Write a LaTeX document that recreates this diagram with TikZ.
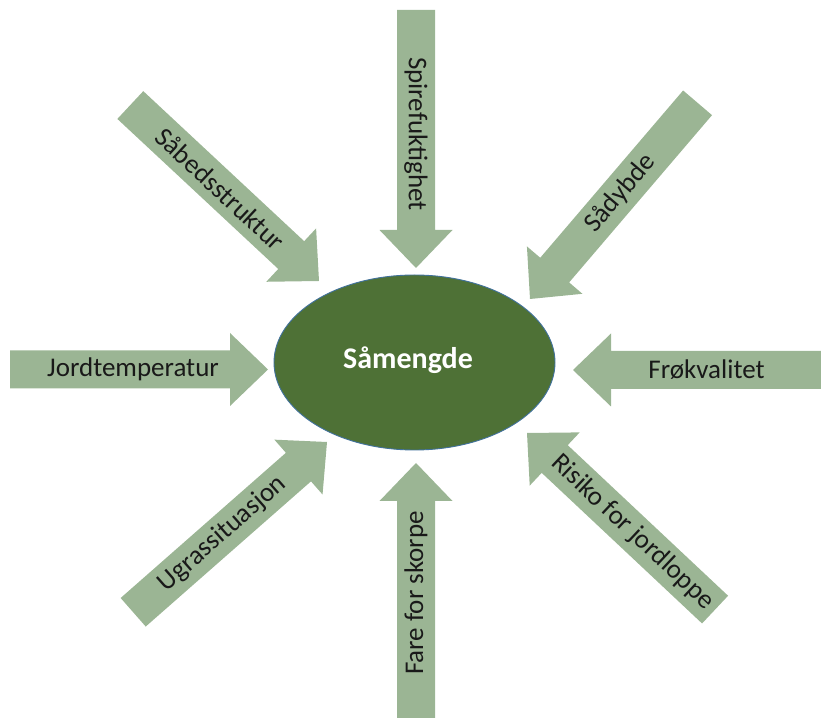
\documentclass[tikz,border=0pt]{standalone}
\usepackage{fontspec}
\setmainfont{Carlito}
\usetikzlibrary{shapes.geometric}
\definecolor{arrowfill}{HTML}{9BB594}
\definecolor{centerfill}{HTML}{4E7136}
\definecolor{centerline}{HTML}{41719C}
\begin{document}
\begin{tikzpicture}[x=1pt,y=1pt,
  lbl/.style={inner sep=0pt, font=\fontsize{27}{30}\selectfont, text=black!90},
  blockshape/.style={fill=arrowfill, draw=none}]
\useasboundingbox (0,0) rectangle (821,717);
\clip (0,0) rectangle (821,717);
\def\barrow#1#2#3#4#5#6{%
  \begin{scope}[shift={(#1)}, rotate=#2]
    \path[blockshape] (0,0) -- (-38,36.5) -- (-38,19) -- (-258,19) -- (-258,-19) -- (-38,-19) -- (-38,-36.5) -- cycle;
    \node[lbl, rotate=#4] (#6) at (-#3,0) {#5};
  \end{scope}}
% centre
\node[ellipse, minimum width=281, minimum height=175, fill=centerfill, draw=centerline, line width=0.9pt, inner sep=0pt] (c) at (414.5,354.5) {};
\node[font=\fontsize{30}{34}\selectfont\bfseries, text=white, inner sep=0pt] (ctext) at (408,357) {Såmengde};
% arrows
\barrow{268,347.5}{0}{135}{0}{Jordtemperatur}{jord}
\barrow{416,449}{-90}{134}{-90}{Spirefuktighet}{spire}
\barrow{319,436}{-43}{135}{-43}{Såbedsstruktur}{sabed}
\barrow{530,418}{-130.5}{139}{49.5}{Sådybde}{sadybde}
\barrow{573,347}{180}{133.5}{0}{Frøkvalitet}{fro}
\barrow{327,275}{41.3}{139}{41.3}{Ugrassituasjon}{ugras}
\barrow{527,284}{136.8}{145}{-43.2}{Risiko for jordloppe}{risiko}
\barrow{416,254}{90}{130}{90}{Fare for skorpe}{fare}
\end{tikzpicture}
\end{document}
